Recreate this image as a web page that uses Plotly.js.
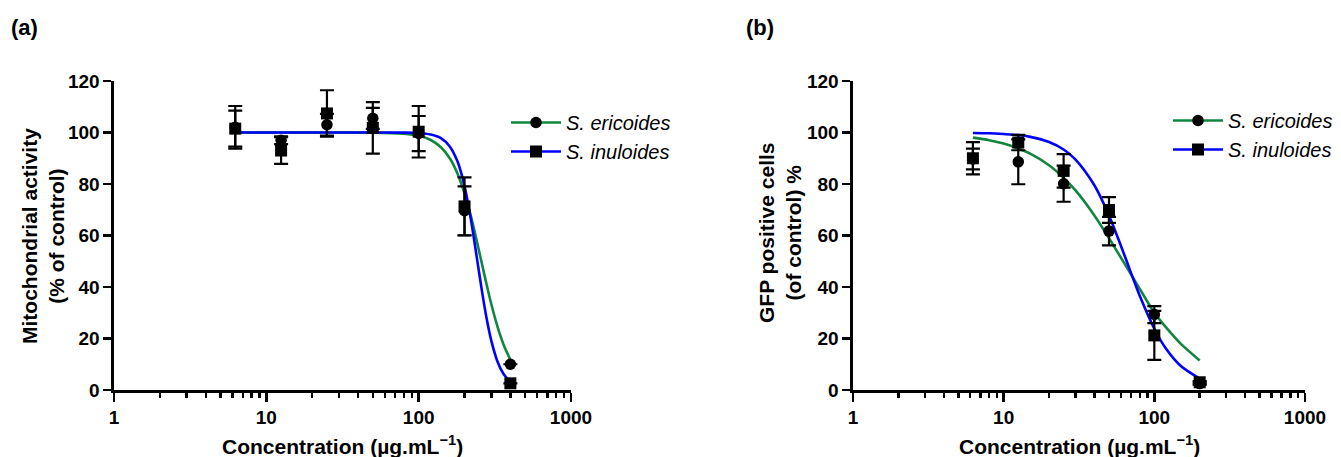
<!DOCTYPE html>
<html>
<head>
<meta charset="utf-8">
<script src="https://cdn.plot.ly/plotly-3.0.1.min.js"></script>
<style>html,body{margin:0;padding:0;background:#fff;}#chart{width:1341px;height:457px;}</style>
</head>
<body>
<div id="chart"></div>
<script>
// ---------- data ----------
const seriesNames = ['S. ericoides', 'S. inuloides'];

// Panel (a): mitochondrial activity
const concA = [6.25, 12.5, 25, 50, 100, 200, 400];
const ericoidesA = [102, 97, 103, 105.5, 99.6, 69.6, 10];
const ericoidesAErr = [8.3, 1.5, 4.2, 4.1, 6.8, 9.5, 0];
const inuloidesA = [101.5, 93, 107.4, 101.8, 100.3, 71.3, 2.6];
const inuloidesAErr = [7, 5.2, 9, 10, 10, 11.3, 0];

// fitted curves (a)
const curveXA = [6.25, 10, 20, 50, 80, 100, 120, 140, 160, 180, 200, 220, 240, 260, 280, 300, 330, 360, 400];
const curveEricoidesA = [100, 100, 100, 99.95, 99.5, 98.7, 97.1, 94.3, 90.0, 84.0, 76.3, 67.6, 58.2, 49.1, 40.7, 33.3, 24.4, 17.8, 11.7];
const curveInuloidesA = [100, 100, 100, 100, 99.95, 99.8, 99.2, 97.8, 94.6, 88.7, 79.2, 66.4, 52.1, 38.6, 27.5, 19.1, 10.9, 6.3, 3.2];

// Panel (b): GFP positive cells
const concB = [6.25, 12.5, 25, 50, 100, 200];
const ericoidesB = [89.7, 88.6, 80.1, 61.7, 29.3, 2.5];
const ericoidesBErr = [4, 8.7, 7, 5.5, 3.3, 0.5];
const inuloidesB = [90, 96.1, 85.1, 69.9, 21.2, 3];
const inuloidesBErr = [6.3, 3, 6.5, 5, 9.5, 0.5];

const curveXB = [6.25, 8, 10, 12.5, 15, 20, 25, 30, 40, 50, 60, 70, 80, 100, 120, 150, 200];
const curveEricoidesB = [98.0, 97.0, 95.7, 93.8, 91.8, 87.3, 82.4, 77.5, 67.8, 59.0, 51.4, 44.9, 39.3, 30.0, 24.2, 17.9, 11.5];
const curveInuloidesB = [99.8, 99.7, 99.4, 99.0, 98.3, 96.3, 93.4, 89.5, 79.5, 67.8, 56.0, 45.5, 36.6, 23.8, 15.9, 9.3, 4.4];

const xTickVals = [1, 10, 100, 1000];
const xTickText = ['1', '10', '100', '1000'];
const xMinorVals = [2,3,4,5,6,7,8,9,20,30,40,50,60,70,80,90,200,300,400,500,600,700,800,900];
const yTickVals = [0, 20, 40, 60, 80, 100, 120];

// ---------- styling ----------
const FONT = 'Liberation Sans, Arial, Helvetica, sans-serif';
const GREEN = '#10863e';
const BLUE = '#0000ff';
const W = 1341, H = 457;
const px = v => v / W;
const py = v => 1 - v / H;

function curve(x, y, color, xa, ya) {
  return {x: x, y: y, mode: 'lines', line: {color: color, width: 2.6, shape: 'spline', smoothing: 0.8},
          xaxis: xa, yaxis: ya, showlegend: false, hoverinfo: 'skip'};
}
function points(x, y, err, symbol, xa, ya) {
  return {x: x, y: y, mode: 'markers', xaxis: xa, yaxis: ya, showlegend: false, cliponaxis: false,
          marker: {symbol: symbol, size: symbol === 'square' ? 12 : 11.5, color: '#000'},
          error_y: {type: 'data', array: err, visible: true, color: '#000', thickness: 2.2, width: 7}};
}
function legendItem(name, color, symbol, xa, ya, leg) {
  return {x: [null], y: [null], mode: 'lines+markers', name: name, xaxis: xa, yaxis: ya, legend: leg,
          line: {color: color, width: 2.6}, marker: {symbol: symbol, size: symbol === 'square' ? 12 : 11.5, color: '#000'}};
}

const traces = [
  curve(curveXA, curveEricoidesA, GREEN, 'x', 'y'),
  curve(curveXA, curveInuloidesA, BLUE, 'x', 'y'),
  points(concA, ericoidesA, ericoidesAErr, 'circle', 'x', 'y'),
  points(concA, inuloidesA, inuloidesAErr, 'square', 'x', 'y'),
  legendItem(seriesNames[0], GREEN, 'circle', 'x', 'y', 'legend'),
  legendItem(seriesNames[1], BLUE, 'square', 'x', 'y', 'legend'),

  curve(curveXB, curveEricoidesB, GREEN, 'x2', 'y2'),
  curve(curveXB, curveInuloidesB, BLUE, 'x2', 'y2'),
  points(concB, ericoidesB, ericoidesBErr, 'circle', 'x2', 'y2'),
  points(concB, inuloidesB, inuloidesBErr, 'square', 'x2', 'y2'),
  legendItem(seriesNames[0], GREEN, 'circle', 'x2', 'y2', 'legend2'),
  legendItem(seriesNames[1], BLUE, 'square', 'x2', 'y2', 'legend2')
];

function xAxis(domain, anchor) {
  return {type: 'log', range: [0, 3], domain: domain, anchor: anchor,
    showline: true, linecolor: '#000', linewidth: 2.6, showgrid: false, zeroline: false,
    ticks: 'outside', ticklen: 9, tickwidth: 2.4, tickcolor: '#000',
    tickmode: 'array', tickvals: xTickVals, ticktext: xTickText,
    tickfont: {family: FONT, size: 19, color: '#000', weight: 'bold'},
    minor: {ticks: 'outside', ticklen: 5.5, tickwidth: 2.4, tickcolor: '#000', tickvals: xMinorVals, showgrid: false},
    fixedrange: true};
}
function yAxis(domain, anchor) {
  return {range: [0, 120], domain: domain, anchor: anchor,
    showline: true, linecolor: '#000', linewidth: 2.6, showgrid: false, zeroline: false,
    ticks: 'outside', ticklen: 8, tickwidth: 2.4, tickcolor: '#000',
    tickmode: 'array', tickvals: yTickVals,
    tickfont: {family: FONT, size: 19, color: '#000', weight: 'bold'},
    fixedrange: true};
}

const yDom = [py(390), py(81)];
const legendStyle = (x, y) => ({x: x, y: y, xref: 'paper', yref: 'paper', xanchor: 'left', yanchor: 'top',
  bgcolor: 'rgba(0,0,0,0)', borderwidth: 0, itemwidth: 50, tracegroupgap: 0,
  font: {family: FONT, size: 20, color: '#000', style: 'italic'}});

const titleFont = {family: FONT, size: 21, color: '#000', weight: 'bold'};

const layout = {
  width: W, height: H,
  margin: {l: 0, r: 0, t: 0, b: 0},
  paper_bgcolor: '#fff', plot_bgcolor: '#fff',
  showlegend: true,
  xaxis: xAxis([px(114), px(571)], 'y'),
  yaxis: yAxis(yDom, 'x'),
  xaxis2: xAxis([px(853), px(1305)], 'y2'),
  yaxis2: yAxis(yDom, 'x2'),
  legend: legendStyle(px(506), py(103)),
  legend2: legendStyle(px(1168), py(101)),
  annotations: [
    {text: '(a)', x: px(9), y: py(27), xref: 'paper', yref: 'paper', xanchor: 'left', yanchor: 'middle', showarrow: false, font: {family: FONT, size: 22, color: '#000', weight: 'bold'}},
    {text: '(b)', x: px(744), y: py(27), xref: 'paper', yref: 'paper', xanchor: 'left', yanchor: 'middle', showarrow: false, font: {family: FONT, size: 22, color: '#000', weight: 'bold'}},
    {text: 'Mitochondrial activity<br>(% of control)', x: px(43), y: py(236), xref: 'paper', yref: 'paper', xanchor: 'center', yanchor: 'middle', textangle: -90, showarrow: false, font: titleFont},
    {text: 'GFP positive cells<br>(of control) %', x: px(780), y: py(233), xref: 'paper', yref: 'paper', xanchor: 'center', yanchor: 'middle', textangle: -90, showarrow: false, font: titleFont},
    {text: 'Concentration (µg.mL<sup>−1</sup>)', x: px(342.5), y: py(445), xref: 'paper', yref: 'paper', xanchor: 'center', yanchor: 'middle', showarrow: false, font: titleFont},
    {text: 'Concentration (µg.mL<sup>−1</sup>)', x: px(1079), y: py(445), xref: 'paper', yref: 'paper', xanchor: 'center', yanchor: 'middle', showarrow: false, font: titleFont}
  ]
};

Plotly.newPlot('chart', traces, layout, {staticPlot: true, displayModeBar: false});
</script>
</body>
</html>
